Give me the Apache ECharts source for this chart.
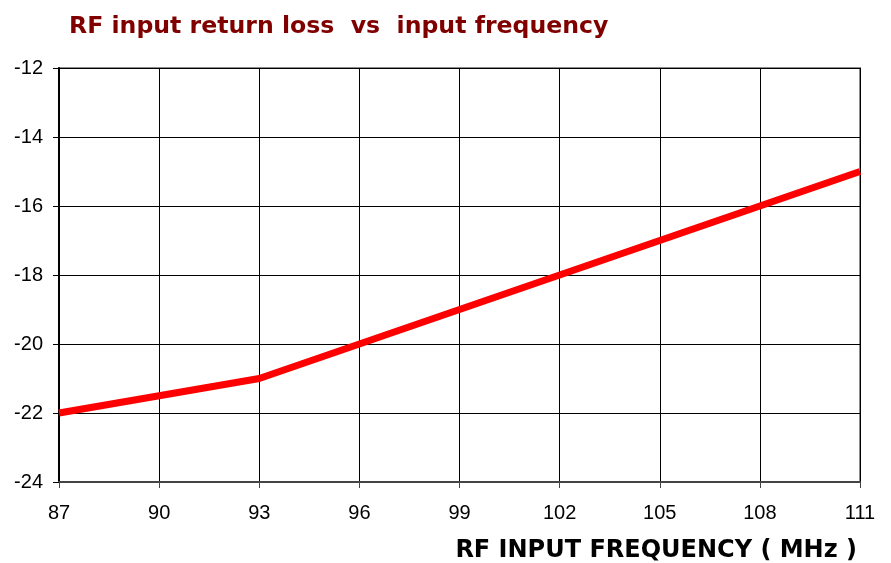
<!DOCTYPE html>
<html>
<head>
<meta charset="utf-8">
<script src="https://cdn.jsdelivr.net/npm/echarts@6/dist/echarts.min.js"></script>
<style>
  html, body { margin: 0; padding: 0; background: #fff; }
  #chart { width: 891px; height: 563px; }
</style>
</head>
<body>
<div id="chart"></div>
<script>
// frequency (MHz) and return loss (dB)
var freqs = [87, 90, 93, 96, 99, 102, 105, 108, 111];
var returnLoss = [-22, -21.5, -21, -20, -19, -18, -17, -16, -15];

var myChart = echarts.init(document.getElementById('chart'));

var points = freqs.map(function (f, i) { return [f, returnLoss[i]]; });

option = {
    animation: false,
    title: {
        text: 'RF input return loss  vs  input frequency',
        left: 64,
        top: 10,
        textStyle: {
            color: '#800000',
            fontFamily: 'DejaVu Sans',
            fontWeight: 'bold',
            fontSize: 23.6
        }
    },
    grid: {
        left: 59,
        right: 31,
        top: 68,
        bottom: 80,
        show: true,
        borderColor: '#8c8c8c',
        borderWidth: 2
    },
    xAxis: {
        type: 'value',
        min: 87,
        max: 111,
        interval: 3,
        name: 'RF INPUT FREQUENCY ( MHz )',
        nameLocation: 'end',
        nameGap: 0,
        nameTextStyle: {
            fontFamily: 'DejaVu Sans',
            fontWeight: 'bold',
            fontSize: 24,
            color: '#000',
            align: 'right',
            verticalAlign: 'top',
            padding: [57, 3, 0, 0]
        },
        axisLine: { lineStyle: { color: '#444', width: 2 } },
        axisTick: { show: true, length: 6, lineStyle: { color: '#444' } },
        axisLabel: {
            margin: 21,
            fontFamily: 'Liberation Sans',
            fontSize: 20,
            color: '#000'
        },
        splitLine: { show: true, lineStyle: { color: '#000', width: 1 } }
    },
    yAxis: {
        type: 'value',
        min: -24,
        max: -12,
        interval: 2,
        axisLine: { show: true, lineStyle: { color: '#000', width: 2 } },
        axisTick: { show: true, length: 6, lineStyle: { color: '#000' } },
        axisLabel: {
            margin: 16,
            fontFamily: 'Liberation Sans',
            fontSize: 20,
            color: '#000'
        },
        splitLine: { show: true, lineStyle: { color: '#000', width: 1 } }
    },
    series: [{
        type: 'line',
        data: points,
        symbol: 'none',
        lineStyle: { color: '#ff0000', width: 7 }
    }]
};

myChart.setOption(option);
</script>
</body>
</html>
